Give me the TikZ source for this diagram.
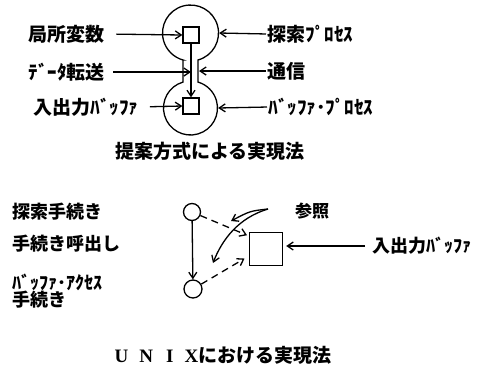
\documentclass[tikz,border=0pt]{standalone}
\usepackage{fontspec}
\newfontfamily\jp{Noto Sans CJK JP}
\newfontfamily\serifx{Liberation Serif}
\usetikzlibrary{arrows.meta,calc}
\begin{document}
\begin{tikzpicture}[x=1pt,y=-1pt,
  line width=1.3pt,
  arr/.style={-{Straight Barb[length=6pt,width=8pt]}},
  dsh/.style={dash pattern=on 7pt off 5pt},
  lab/.style={font=\jp\bfseries\fontsize{19}{21}\selectfont, inner sep=0pt},
  labs/.style={font=\jp\bfseries\fontsize{18}{20}\selectfont, inner sep=0pt},
  box/.style={draw, minimum size=16pt, inner sep=0pt},
  hidden/.style={circle, inner sep=0pt},
  dot/.style={circle, draw, inner sep=0pt, minimum size=17pt}
]
\useasboundingbox (0,0) rectangle (487,365);

% ---------- top: proposed method ----------
\node[hidden, minimum size=56pt] (C1) at (190.5,33) {};
\node[hidden, minimum size=54pt] (C2) at (190.5,108) {};
\draw (183,60) -- (183,82.06)
  arc[start angle=-106.1, end angle=-433.9, radius=27]
  -- (198,60)
  arc[start angle=74.5, end angle=-254.5, radius=28] -- cycle;
\node[box] (s1) at (191,35) {};
\node[box] (s2) at (191,106) {};
\coordinate (nR) at (199,71);

\node[lab, anchor=west] (lv) at (28,34) {局所変数};
\node[lab, anchor=west] (dt) at (28,72) {ﾃﾞｰﾀ転送};
\node[lab, anchor=west] (iob) at (33,107) {入出力ﾊﾞｯﾌｧ};
\node[lab, anchor=west] (sp) at (267,34) {探索ﾌﾟﾛｾｽ};
\node[lab, anchor=west] (com) at (267,71) {通信};
\node[lab, anchor=west] (bp) at (268,107) {ﾊﾞｯﾌｧ･ﾌﾟﾛｾｽ};

\draw[arr] (s1) -- (s2);
\draw[arr, shorten <=11pt] (lv.east) -- (s1.west);
\draw[arr, shorten <=8pt] (dt.east) -- (s1.south |- dt.east);
\draw[arr, shorten <=11pt] (iob.east) -- (s2.west);
\draw[arr, shorten <=1pt] (sp.west) -- (C1.east);
\draw[arr, shorten <=1pt] (com.west) -- (nR);
\draw[arr, shorten <=1pt] (bp.west) -- (C2.east);

\node[lab] (cap1) at (210,151) {提案方式による実現法};

% ---------- bottom: UNIX ----------
\node[labs, anchor=west] (st) at (12,212) {探索手続き};
\node[labs, anchor=west] (pc) at (12,244) {手続き呼出し};
\node[labs, anchor=west] (ba1) at (12,282) {ﾊﾞｯﾌｧ･ｱｸｾｽ};
\node[labs, anchor=west] (ba2) at (12,300) {手続き};

\node[dot] (c1) at (192,212) {};
\node[dot, minimum size=18pt] (c2) at (193,289) {};
\node[box, minimum size=33pt] (sq) at (266,249) {};

\draw[arr] (c1) -- (c2);
\draw[arr, dsh, shorten >=2pt] (c1) -- ([yshift=13pt]sq.west);
\draw[arr, dsh, shorten >=5pt] (c2) -- ([yshift=-7pt]sq.west);

\node[font=\jp\bfseries\fontsize{17}{19}\selectfont, inner sep=0pt] (ref) at (312,211) {参照};
\coordinate (rs) at (268,209);
\draw[arr] (rs) .. controls (250,211) .. (231,221);
\draw[arr] (rs) .. controls (238,218) and (222,240) .. (213,263);

\node[labs, anchor=west] (iob2) at (372,246) {入出力ﾊﾞｯﾌｧ};
\draw[arr, shorten <=7pt, shorten >=3pt] (iob2.west) -- (sq.east |- iob2.west);

\node[inner sep=0pt] (cap2) at (223,355)
  {\serifx\bfseries\fontsize{19}{21}\selectfont U\hspace{11pt}N\hspace{13pt}I\hspace{11pt}X\jp\bfseries における実現法};
\end{tikzpicture}
\end{document}
